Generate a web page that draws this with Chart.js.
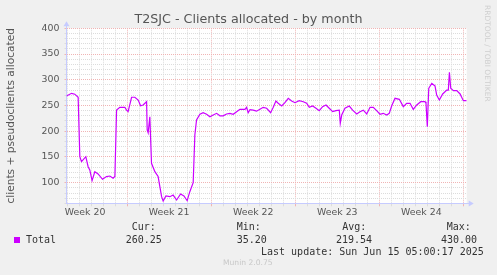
<!DOCTYPE html>
<html>
<head>
<meta charset="utf-8">
<script src="https://cdn.jsdelivr.net/npm/chart.js@4.4.1/dist/chart.umd.min.js"></script>
<style>
  html, body { margin: 0; padding: 0; background: #f0f0f0; }
  #wrap { position: relative; width: 497px; height: 275px; overflow: hidden; background: #f0f0f0; }
  #graph { position: absolute; left: 0; top: 0; }
  .txt { position: absolute; white-space: pre; line-height: 12px; }
  .mono { font-family: 'DejaVu Sans Mono', monospace; font-size: 10px; color: #333; }
  #title { left: 0; width: 497px; top: 12px; text-align: center; font-family: 'DejaVu Sans', sans-serif; font-size: 12.7px; line-height: 14px; color: #555; }
  #munin { left: 223px; top: 258px; font-family: 'DejaVu Sans', sans-serif; font-size: 7.6px; line-height: 10px; color: #c8c8c8; }
  #rrd { left: 482px; top: 5px; writing-mode: vertical-rl; font-family: 'DejaVu Sans', sans-serif; font-size: 7.5px; line-height: 10px; color: #cfcfcf; }
  #swatch { position: absolute; left: 14px; top: 237px; width: 6px; height: 6px; background: #cc00ff; }
</style>
</head>
<body>
<div id="wrap">
  <canvas id="graph" width="497" height="275"></canvas>
  <div class="txt" id="title">T2SJC - Clients allocated - by month</div>
  <div class="txt" id="rrd">RRDTOOL / TOBI OETIKER</div>
  <div class="txt mono" style="left:131.7px; top:221px">Cur:</div>
  <div class="txt mono" style="left:236.7px; top:221px">Min:</div>
  <div class="txt mono" style="left:342.3px; top:221px">Avg:</div>
  <div class="txt mono" style="left:446.7px; top:221px">Max:</div>
  <div id="swatch"></div>
  <div class="txt mono" style="left:26px; top:234px">Total</div>
  <div class="txt mono" id="cur" style="left:125.7px; top:234px"></div>
  <div class="txt mono" id="min" style="left:236.7px; top:234px"></div>
  <div class="txt mono" id="avg" style="left:336px; top:234px"></div>
  <div class="txt mono" id="max" style="left:441px; top:234px"></div>
  <div class="txt mono" style="left:261px; top:245.7px">Last update: Sun Jun 15 05:00:17 2025</div>
  <div class="txt" id="munin">Munin 2.0.75</div>
</div>
<script>
// Munin "Clients allocated - by month" graph, redrawn with Chart.js

// Time axis: days since Monday 12 May 2025 (start of week 20)
const days = [
  1.95, 2.37, 2.64, 2.92, 3.06, 3.20, 3.56, 3.75, 3.89, 4.08,
  4.31, 4.58, 4.95, 5.28, 5.56, 5.83, 5.98, 6.12, 6.39, 6.81,
  6.95, 7.08, 7.37, 7.64, 7.92, 8.12, 8.33, 8.62, 8.67, 8.75,
  8.89, 9.03, 9.31, 9.58, 9.87, 10.0, 10.23, 10.56, 10.83, 11.12,
  11.45, 11.73, 12.0, 12.22, 12.5, 12.64, 12.78, 13.06, 13.33, 13.62,
  13.89, 14.17, 14.45, 14.73, 15.0, 15.28, 15.56, 15.83, 16.12, 16.39,
  16.81, 16.95, 17.08, 17.23, 17.5, 17.78, 18.06, 18.33, 18.62, 18.95,
  19.17, 19.39, 19.58, 19.87, 20.14, 20.42, 20.70, 20.98, 21.33, 21.67,
  21.95, 22.17, 22.45, 22.73, 23.0, 23.28, 23.56, 23.83, 24.12, 24.39,
  24.67, 24.75, 24.87, 25.14, 25.5, 25.78, 26.12, 26.39, 26.67, 26.95,
  27.23, 27.5, 27.78, 28.06, 28.33, 28.62, 28.83, 29.03, 29.31, 29.67,
  30.0, 30.28, 30.56, 30.83, 31.12, 31.45, 31.81, 31.89, 32.0, 32.12,
  32.37, 32.64, 32.78, 33.0, 33.28, 33.62, 33.75, 33.84, 33.95, 34.17,
  34.45, 34.73, 35.0, 35.28
];

// Total clients + pseudoclients allocated
const totals = [
  268.5, 273.7, 272, 266, 150.5, 141, 150.5, 131, 124.7, 104,
  121.4, 117, 106.6, 112, 113, 108.6, 112, 241, 246.5, 246.5,
  241, 238, 266, 266, 260.7, 249.6, 251, 257.4, 202.4, 197,
  228, 137.7, 121.4, 112, 72.8, 64.4, 74.2, 72.8, 76, 66.4,
  78, 74.2, 65, 82.6, 100, 192.7, 221.8, 232.9, 236, 233,
  228, 231.5, 234.8, 230, 230, 233.5, 234.8, 233, 238, 242.6,
  242.6, 246.5, 236, 242, 241, 239, 242.6, 246.5, 244.6, 236,
  246.5, 258.8, 254.3, 249, 255.5, 264, 258.8, 255.5, 259.4, 257.4,
  254.3, 246.5, 249, 244.6, 240, 247.8, 251, 244.6, 238, 240,
  241, 215.4, 231.5, 244.6, 249, 241, 233.5, 238, 241, 233.5,
  246.5, 246.5, 240, 233, 234.8, 231.5, 234.8, 249, 264, 262,
  247.8, 254.3, 254.3, 242.6, 251, 257.4, 257.4, 254.3, 208.8, 283.4,
  293.1, 288, 270.4, 260.7, 272.4, 280, 280, 314.5, 283.4, 278.8,
  278.8, 272.4, 259.4, 259.4
];

// Week labels, centred in each week span
const weekNumbers = [20, 21, 22, 23, 24];
const weekCentres = [3.5, 10.5, 17.5, 24.5, 31.5];

// Y ticks: grid every 10, labels every 50
const yTicks = [60, 70, 80, 90, 100, 110, 120, 130, 140, 150, 160, 170, 180, 190, 200,
  210, 220, 230, 240, 250, 260, 270, 280, 290, 300, 310, 320, 330, 340, 350,
  360, 370, 380, 390, 400];
const yLabels = [100, 150, 200, 250, 300, 350, 400];

// Legend statistics
const stats = { cur: '260.25', min: '35.20', avg: '219.54', max: '430.00' };

const LINE_COLOR = '#cc00ff';
const AXIS_COLOR = '#c6cbff';
const MINOR_GRID = '#dcdcdc';
const MAJOR_GRID = '#f0b4b4';
const TEXT_COLOR = '#555';
const FONT = 'DejaVu Sans';

document.getElementById('cur').textContent = stats.cur;
document.getElementById('min').textContent = stats.min;
document.getElementById('avg').textContent = stats.avg;
document.getElementById('max').textContent = stats.max;

const isCentre = v => weekCentres.some(c => Math.abs(c - v) < 1e-6);

function xGridColor(v) {
    if (isCentre(v)) return 'rgba(0,0,0,0)';
    return v % 7 === 0 ? MAJOR_GRID : MINOR_GRID;
}

// white canvas behind the plot area
const plotBackground = {
    id: 'plotBackground',
    beforeDraw(chart) {
        const { ctx, chartArea: a } = chart;
        ctx.save();
        ctx.fillStyle = '#ffffff';
        ctx.fillRect(a.left, a.top, a.right - a.left, a.bottom - a.top);
        ctx.restore();
    }
};

// rrdtool style arrow heads on both axes
const axisArrows = {
    id: 'axisArrows',
    afterDraw(chart) {
        const { ctx, chartArea: a } = chart;
        const x0 = Math.round(a.left) - 0.5;
        const y0 = Math.round(a.bottom) + 0.5;
        ctx.save();
        ctx.strokeStyle = AXIS_COLOR;
        ctx.fillStyle = AXIS_COLOR;
        ctx.lineWidth = 1;
        ctx.beginPath();
        ctx.moveTo(x0, a.top);
        ctx.lineTo(x0, a.top - 3);
        ctx.moveTo(a.right, y0);
        ctx.lineTo(a.right + 3, y0);
        ctx.stroke();
        ctx.beginPath();
        ctx.moveTo(x0, a.top - 7);
        ctx.lineTo(x0 - 3, a.top - 2);
        ctx.lineTo(x0 + 3, a.top - 2);
        ctx.closePath();
        ctx.fill();
        ctx.beginPath();
        ctx.moveTo(a.right + 7, y0);
        ctx.lineTo(a.right + 2, y0 - 3);
        ctx.lineTo(a.right + 2, y0 + 3);
        ctx.closePath();
        ctx.fill();
        ctx.restore();
    }
};

new Chart(document.getElementById('graph').getContext('2d'), {
    type: 'line',
    data: {
        datasets: [{
            label: 'Total',
            data: days.map((d, i) => ({ x: d, y: totals[i] })),
            borderColor: LINE_COLOR,
            borderWidth: 1.2,
            pointRadius: 0,
            tension: 0,
            fill: false
        }]
    },
    options: {
        responsive: false,
        animation: false,
        events: [],
        layout: { padding: { top: 28.3, right: 30.3, bottom: 51.7, left: 0 } },
        plugins: {
            legend: { display: false },
            title: { display: false },
            tooltip: { enabled: false }
        },
        scales: {
            x: {
                type: 'linear',
                min: 1.95,
                max: 35.28,
                afterBuildTicks: scale => {
                    const t = [];
                    for (let d = 2; d <= 35; d++) t.push(d);
                    weekCentres.forEach(c => t.push(c));
                    t.sort((a, b) => a - b);
                    scale.ticks = t.map(v => ({ value: v }));
                },
                afterFit: scale => { scale.height = 20; },
                ticks: {
                    autoSkip: false,
                    maxRotation: 0,
                    padding: 1,
                    color: TEXT_COLOR,
                    font: { family: FONT, size: 9.4 },
                    callback: v => {
                        const i = weekCentres.findIndex(c => Math.abs(c - v) < 1e-6);
                        return i >= 0 ? 'Week ' + weekNumbers[i] : '';
                    }
                },
                grid: {
                    color: ctx => xGridColor(ctx.tick.value),
                    tickColor: ctx => xGridColor(ctx.tick.value),
                    tickLength: 3,
                    lineWidth: 1
                },
                border: { color: AXIS_COLOR, width: 1, dash: [1, 1] }
            },
            y: {
                min: 60,
                max: 400,
                afterBuildTicks: scale => {
                    scale.ticks = yTicks.map(v => ({ value: v }));
                },
                afterFit: scale => { scale.width = 66.5; },
                ticks: {
                    autoSkip: false,
                    padding: 5,
                    color: TEXT_COLOR,
                    font: { family: FONT, size: 9.4 },
                    callback: v => yLabels.includes(v) ? String(v) : ''
                },
                grid: {
                    color: ctx => ctx.tick.value % 50 === 0 ? MAJOR_GRID : MINOR_GRID,
                    tickColor: ctx => ctx.tick.value % 50 === 0 ? MAJOR_GRID : MINOR_GRID,
                    tickLength: 2,
                    lineWidth: 1
                },
                border: { color: AXIS_COLOR, width: 1, dash: [1, 1] },
                title: {
                    display: true,
                    text: 'clients + pseudoclients allocated',
                    color: TEXT_COLOR,
                    font: { family: FONT, size: 10.6 },
                    padding: { top: 5, bottom: 0 }
                }
            }
        }
    },
    plugins: [plotBackground, axisArrows]
});
</script>
</body>
</html>
